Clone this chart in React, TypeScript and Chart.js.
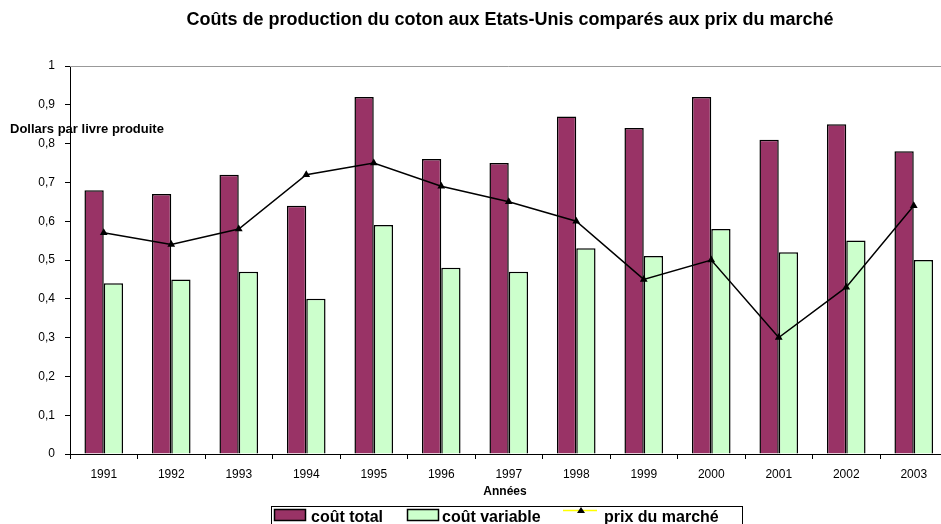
import React, { useEffect, useRef } from 'react';
import { Chart, registerables } from 'chart.js';

Chart.register(...registerables);

const years = ['1991', '1992', '1993', '1994', '1995', '1996', '1997', '1998', '1999', '2000', '2001', '2002', '2003'];
const coutTotal = [0.68, 0.67, 0.72, 0.64, 0.92, 0.76, 0.75, 0.87, 0.84, 0.92, 0.81, 0.85, 0.78];
const coutVariable = [0.44, 0.45, 0.47, 0.40, 0.59, 0.48, 0.47, 0.53, 0.51, 0.58, 0.52, 0.55, 0.50];
const prixMarche = [0.57, 0.54, 0.58, 0.72, 0.75, 0.69, 0.65, 0.60, 0.45, 0.50, 0.30, 0.43, 0.64];

const titleText = 'Coûts de production du coton aux Etats-Unis comparés aux prix du marché';
const yTitleText = 'Dollars par livre produite';
const xTitleText = 'Années';
const seriesLabels = ['coût total', 'coût variable', 'prix du marché'];

const FONT = '"Liberation Sans", Arial, sans-serif';

const decorPlugin = {
  id: 'decor',
  afterDraw(chart: any) {
    const ctx = chart.ctx as CanvasRenderingContext2D;
    const area = chart.chartArea;
    ctx.save();
    // top border of plot area
    ctx.strokeStyle = '#999999';
    ctx.lineWidth = 1;
    ctx.beginPath();
    ctx.moveTo(area.left, Math.round(area.top) + 0.5);
    ctx.lineTo(area.right, Math.round(area.top) + 0.5);
    ctx.stroke();

    ctx.fillStyle = '#000';
    // title
    ctx.font = `bold 18px ${FONT}`;
    ctx.textAlign = 'center';
    ctx.textBaseline = 'middle';
    ctx.fillText(titleText, 510, 20);
    // y title
    ctx.font = `bold 13px ${FONT}`;
    ctx.textAlign = 'left';
    ctx.fillText(yTitleText, 10, 129);
    // x title
    ctx.font = `bold 12px ${FONT}`;
    ctx.textAlign = 'center';
    ctx.fillText(xTitleText, 505, 492);

    // legend
    const ds = chart.data.datasets;
    ctx.strokeStyle = '#000';
    ctx.lineWidth = 1;
    ctx.fillStyle = '#fff';
    ctx.fillRect(271.5, 506.5, 471, 30);
    ctx.strokeRect(271.5, 506.5, 471, 30);

    ctx.font = `bold 16px ${FONT}`;
    ctx.textAlign = 'left';
    ctx.textBaseline = 'alphabetic';

    const swatches = [
      { x: 274, tx: 311, d: ds[0] },
      { x: 407, tx: 442, d: ds[1] },
    ];
    swatches.forEach((s) => {
      ctx.fillStyle = s.d.backgroundColor;
      ctx.fillRect(s.x + 0.5, 509.5, 31, 11);
      ctx.strokeStyle = '#000';
      ctx.lineWidth = 1.5;
      ctx.strokeRect(s.x + 0.5, 509.5, 31, 11);
      ctx.fillStyle = '#000';
      ctx.fillText(s.d.label, s.tx, 522);
    });
    // line item
    ctx.strokeStyle = '#FFFF00';
    ctx.lineWidth = 1.5;
    ctx.beginPath();
    ctx.moveTo(563, 510.5);
    ctx.lineTo(597, 510.5);
    ctx.stroke();
    ctx.fillStyle = '#000';
    ctx.beginPath();
    ctx.moveTo(581, 507);
    ctx.lineTo(585, 513);
    ctx.lineTo(577, 513);
    ctx.closePath();
    ctx.fill();
    ctx.fillText(ds[2].label, 604, 522);
    ctx.restore();
  },
};

export default function App() {
  const ref = useRef<HTMLCanvasElement>(null);
  useEffect(() => {
    if (!ref.current) return;
    const chart = new Chart(ref.current, {
      type: 'bar',
      data: {
        labels: years,
        datasets: [
          {
            type: 'bar',
            label: seriesLabels[0],
            data: coutTotal,
            backgroundColor: '#993366',
            borderColor: '#000000',
            borderWidth: 1.5,
            barPercentage: 1,
            categoryPercentage: 0.572,
            order: 1,
          },
          {
            type: 'bar',
            label: seriesLabels[1],
            data: coutVariable,
            backgroundColor: '#CCFFCC',
            borderColor: '#000000',
            borderWidth: 1.5,
            barPercentage: 1,
            categoryPercentage: 0.572,
            order: 1,
          },
          {
            type: 'line',
            label: seriesLabels[2],
            data: prixMarche,
            borderColor: '#000000',
            backgroundColor: '#000000',
            borderWidth: 1.5,
            pointStyle: 'triangle',
            pointRadius: 4.5,
            pointBorderWidth: 0,
            pointBackgroundColor: '#000000',
            tension: 0,
            order: 0,
          } as any,
        ],
      },
      options: {
        responsive: false,
        animation: false,
        devicePixelRatio: 1,
        layout: { padding: { top: 66, right: 12.5, bottom: 0, left: 0 } },
        plugins: {
          legend: { display: false },
          title: { display: false },
          tooltip: { enabled: false },
        },
        scales: {
          x: {
            grid: {
              offset: true,
              drawOnChartArea: false,
              drawTicks: true,
              tickLength: 5,
              color: '#000000',
            },
            border: { color: '#000000', width: 1 },
            ticks: {
              color: '#000000',
              font: { family: FONT, size: 12 },
              padding: 8,
              maxRotation: 0,
            },
            afterFit: (scale: any) => {
              scale.height = 70;
            },
          },
          y: {
            min: 0,
            max: 1,
            grid: {
              drawOnChartArea: false,
              drawTicks: true,
              tickLength: 5,
              color: '#000000',
            },
            border: { color: '#000000', width: 1 },
            ticks: {
              stepSize: 0.1,
              color: '#000000',
              font: { family: FONT, size: 12 },
              padding: 10,
              callback: (v: any) => {
                const n = Number(v);
                if (Math.abs(n) < 1e-9) return '0';
                if (Math.abs(n - 1) < 1e-9) return '1';
                return n.toFixed(1).replace('.', ',');
              },
            },
            afterFit: (scale: any) => {
              scale.width = 70;
            },
          },
        },
      },
      plugins: [decorPlugin],
    });
    return () => chart.destroy();
  }, []);

  return (
    <div
      style={{
        position: 'fixed',
        left: 0,
        top: 0,
        width: 941,
        height: 524,
        overflow: 'hidden',
        background: '#ffffff',
      }}
    >
      <canvas ref={ref} width={960} height={524} style={{ display: 'block', width: 960, height: 524 }} />
    </div>
  );
}
